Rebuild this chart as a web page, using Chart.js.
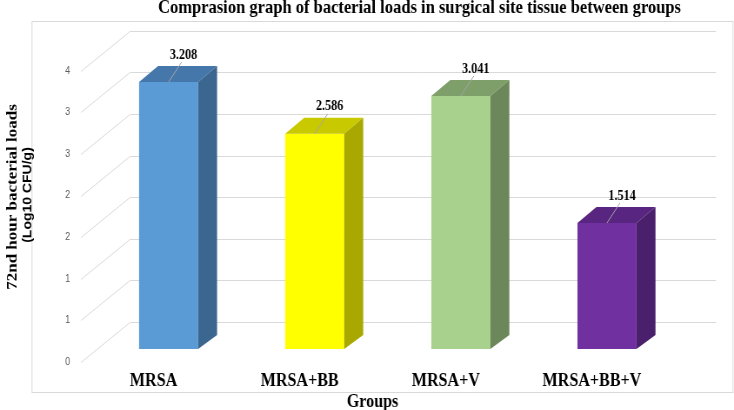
<!DOCTYPE html>
<html>
<head>
<meta charset="utf-8">
<script src="https://cdn.jsdelivr.net/npm/chart.js@4/dist/chart.umd.min.js"></script>
<style>
  body { margin: 0; background: #fff; }
</style>
</head>
<body>
<!-- the reference is squeezed sideways, so draw wider and let the inline style compress it -->
<canvas id="chart" width="844" height="410" style="width:734px;height:410px"></canvas>
<script>
const groups = ['MRSA', 'MRSA+BB', 'MRSA+V', 'MRSA+BB+V'];
const loads = [3.208, 2.586, 3.041, 1.514];
const frontColors = ['#5b9bd5', '#ffff00', '#a9d18e', '#7030a0'];
const topColors = ['#4677ab', '#c9c900', '#7f9f6a', '#582580'];
const sideColors = ['#3b6690', '#a8a800', '#6c8759', '#4a1f6b'];
const yMax = 3.5;
const yStep = 0.5;

const K = 734 / 844;
const X = r => r / K;   // reference px -> canvas px (horizontal only)

const DEPTH_X = X(19);
const TOP_DY = -16;
const BASE_DY = -14;

const serif = '"Liberation Serif", "Times New Roman", serif';
const sans = '"Liberation Sans", Arial, sans-serif';

const box3d = {
  id: 'box3d',
  beforeDatasetsDraw(chart) {
    const { ctx, scales: { y } } = chart;
    ctx.save();
    ctx.strokeStyle = '#d9d9d9';
    ctx.lineWidth = 1;
    // outer border of the plot
    ctx.strokeRect(X(32), 21.5, X(733) - X(32), 371);
    // back wall lines and the slanted side lines
    y.ticks.forEach(t => {
      const py = Math.round(y.getPixelForValue(t.value)) + 0.5;
      ctx.beginPath();
      ctx.moveTo(X(81), py + 13);
      ctx.lineTo(X(130), py - 27);
      ctx.lineTo(X(716), py - 27);
      ctx.stroke();
    });
    ctx.restore();
  },
  afterDatasetsDraw(chart) {
    const { ctx } = chart;
    const meta = chart.getDatasetMeta(0);
    ctx.save();
    meta.data.forEach((bar, i) => {
      const left = bar.x - bar.width / 2;
      const right = bar.x + bar.width / 2;
      // top face
      ctx.fillStyle = topColors[i];
      ctx.beginPath();
      ctx.moveTo(left, bar.y);
      ctx.lineTo(right, bar.y);
      ctx.lineTo(right + DEPTH_X, bar.y + TOP_DY);
      ctx.lineTo(left + DEPTH_X, bar.y + TOP_DY);
      ctx.closePath();
      ctx.fill();
      // side face
      ctx.fillStyle = sideColors[i];
      ctx.beginPath();
      ctx.moveTo(right, bar.y);
      ctx.lineTo(right + DEPTH_X, bar.y + TOP_DY);
      ctx.lineTo(right + DEPTH_X, bar.base + BASE_DY);
      ctx.lineTo(right, bar.base);
      ctx.closePath();
      ctx.fill();

      // value label with leader line
      ctx.strokeStyle = '#a6a6a6';
      ctx.lineWidth = 1;
      ctx.beginPath();
      ctx.moveTo(bar.x, bar.y);
      ctx.lineTo(bar.x + X(13), bar.y - 20);
      ctx.stroke();
      ctx.fillStyle = '#000';
      ctx.font = 'bold 14px ' + serif;
      ctx.textAlign = 'center';
      ctx.textBaseline = 'middle';
      ctx.fillText(loads[i].toFixed(3), bar.x + X(15), bar.y - 27);
    });
    ctx.restore();
  },
  afterDraw(chart) {
    const { ctx } = chart;
    ctx.save();
    ctx.fillStyle = '#000';
    ctx.textBaseline = 'middle';
    // chart title
    ctx.textAlign = 'left';
    ctx.font = 'bold 19px ' + serif;
    ctx.fillText('Comprasion graph of bacterial loads in surgical site tissue between groups', X(158), 8);
    // x axis title
    ctx.textAlign = 'center';
    ctx.font = 'bold 18.5px ' + serif;
    ctx.fillText('Groups', X(372.5), 402);
    // y axis title (two lines)
    ctx.translate(X(13), 197);
    ctx.rotate(-Math.PI / 2);
    ctx.font = 'bold 17px ' + serif;
    ctx.fillText('72nd hour bacterial loads', 0, 0);
    ctx.font = 'bold 14px ' + sans;
    ctx.fillText('(Log10 CFU/g)', 2, X(15));
    ctx.restore();
  }
};

new Chart(document.getElementById('chart'), {
  type: 'bar',
  data: {
    labels: groups,
    datasets: [{
      data: loads,
      backgroundColor: frontColors,
      borderWidth: 0,
      categoryPercentage: 1,
      barPercentage: 0.404
    }]
  },
  options: {
    responsive: false,
    devicePixelRatio: 1,
    animation: false,
    layout: { padding: { top: 57.8, right: 844 - X(680), left: 0, bottom: 0 } },
    scales: {
      y: {
        min: 0,
        max: yMax,
        grid: { display: false, drawTicks: false },
        border: { display: false },
        ticks: {
          stepSize: yStep,
          labelOffset: 13,
          padding: X(95.5) - X(70),
          color: '#595959',
          font: { family: sans, size: 10 },
          callback: v => Math.round(v)
        },
        afterFit: s => { s.width = X(95.5); }
      },
      x: {
        grid: { display: false, drawTicks: false },
        border: { display: false },
        ticks: {
          color: '#000',
          padding: 21,
          labelOffset: -X(15),
          maxRotation: 0,
          autoSkip: false,
          font: { family: serif, size: 18.5, weight: 'bold' }
        },
        afterFit: s => { s.height = 61; }
      }
    },
    plugins: {
      legend: { display: false },
      tooltip: { enabled: false },
      title: { display: false }
    }
  },
  plugins: [box3d]
});
</script>
</body>
</html>
